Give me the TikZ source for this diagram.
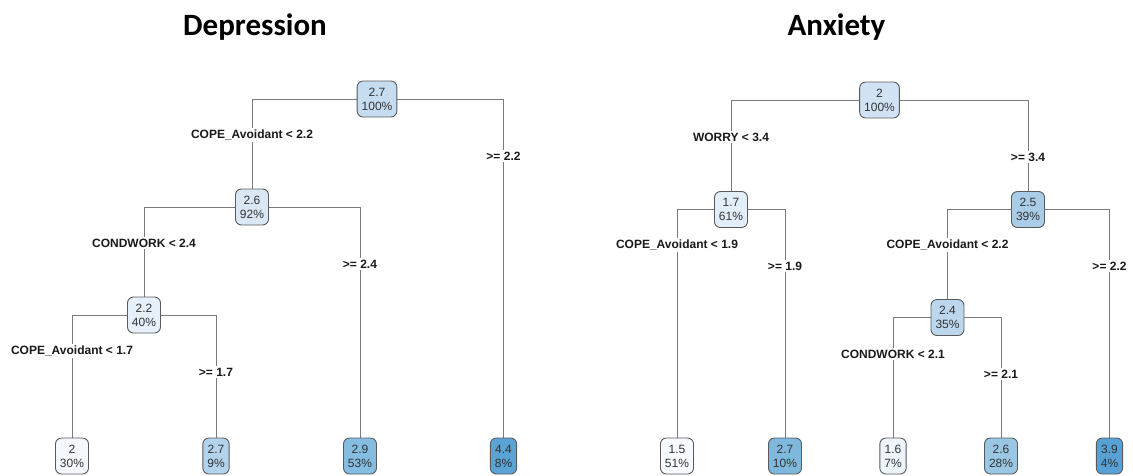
\documentclass[tikz,border=0pt]{standalone}
\usepackage{fontspec}
\setmainfont{Liberation Sans}
\newfontfamily\titlefont{Carlito}
\usetikzlibrary{backgrounds}
\definecolor{nodeborder}{HTML}{5A5A5A}
\definecolor{nodetext}{HTML}{333333}
\definecolor{labtext}{HTML}{1A1A1A}
\definecolor{edgecol}{HTML}{7A7A7A}
\begin{document}
\begin{tikzpicture}[x=1pt,y=-1pt,
  tnode/.style={draw=nodeborder, rounded corners=6pt, line width=0.9pt, align=center,
    font=\fontsize{12}{14}\selectfont, text=nodetext, inner xsep=4.5pt, inner ysep=3pt,
    minimum height=36pt},
  lab/.style={fill=white, font=\bfseries\fontsize{12}{14}\selectfont, inner sep=1.5pt, text=labtext},
  edge/.style={draw=edgecol, line width=1pt},
  ttl/.style={font=\titlefont\bfseries\fontsize{31}{36}\selectfont, anchor=base}]
\useasboundingbox (0,0) rectangle (1133,475);
% titles
\node[ttl] (tdep) at (255,35) {Depression};
\node[ttl] (tanx) at (836.5,35) {Anxiety};
% Depression tree
\node[tnode, fill={rgb,255:red,198;green,220;blue,240}] (d0) at (377,99) {2.7\\100\%};
\node[tnode, fill={rgb,255:red,218;green,232;blue,245}] (d1) at (252,207) {2.6\\92\%};
\node[tnode, fill={rgb,255:red,230;green,240;blue,250}] (d2) at (144,315) {2.2\\40\%};
\node[tnode, fill={rgb,255:red,245;green,249;blue,254}] (dl1) at (72,456) {2\\30\%};
\node[tnode, fill={rgb,255:red,179;green,211;blue,236}] (dl2) at (216,456) {2.7\\9\%};
\node[tnode, fill={rgb,255:red,133;green,189;blue,226}] (dl3) at (360,456) {2.9\\53\%};
\node[tnode, fill={rgb,255:red,90;green,163;blue,214}] (dl4) at (503.5,456) {4.4\\8\%};
% Anxiety tree
\node[tnode, fill={rgb,255:red,208;green,226;blue,243}] (a0) at (879.5,100) {2\\100\%};
\node[tnode, fill={rgb,255:red,226;green,238;blue,249}] (a1) at (731,209.5) {1.7\\61\%};
\node[tnode, fill={rgb,255:red,169;green,205;blue,231}] (a2) at (1028,209.5) {2.5\\39\%};
\node[tnode, fill={rgb,255:red,188;green,215;blue,237}] (a3) at (947.5,317.5) {2.4\\35\%};
\node[tnode, fill={rgb,255:red,247;green,251;blue,255}] (al1) at (677,456) {1.5\\51\%};
\node[tnode, fill={rgb,255:red,127;green,184;blue,221}] (al2) at (785,456) {2.7\\10\%};
\node[tnode, fill={rgb,255:red,237;green,244;blue,252}] (al3) at (893,456) {1.6\\7\%};
\node[tnode, fill={rgb,255:red,154;green,199;blue,228}] (al4) at (1001,456) {2.6\\28\%};
\node[tnode, fill={rgb,255:red,88;green,161;blue,212}] (al5) at (1109.5,456) {3.9\\4\%};
% edges
\begin{scope}[on background layer]
\draw[edge] (d0) -| (d1);
\draw[edge] (d0) -| (dl4);
\draw[edge] (d1) -| (d2);
\draw[edge] (d1) -| (dl3);
\draw[edge] (d2) -| (dl1);
\draw[edge] (d2) -| (dl2);
\draw[edge] (a0) -| (a1);
\draw[edge] (a0) -| (a2);
\draw[edge] (a1) -| (al1);
\draw[edge] (a1) -| (al2);
\draw[edge] (a2) -| (a3);
\draw[edge] (a2) -| (al5);
\draw[edge] (a3) -| (al3);
\draw[edge] (a3) -| (al4);
\end{scope}
% labels
\node[lab] (ld1) at (252,135) {COPE\_Avoidant < 2.2};
\node[lab] (ld2) at (503.5,156) {>= 2.2};
\node[lab] (ld3) at (144,243) {CONDWORK < 2.4};
\node[lab] (ld4) at (360,264) {>= 2.4};
\node[lab] (ld5) at (72,351) {COPE\_Avoidant < 1.7};
\node[lab] (ld6) at (216,372) {>= 1.7};
\node[lab] (la1) at (731,137) {WORRY < 3.4};
\node[lab] (la2) at (1028,157) {>= 3.4};
\node[lab] (la3) at (677,245) {COPE\_Avoidant < 1.9};
\node[lab] (la4) at (785,266) {>= 1.9};
\node[lab] (la5) at (947.5,245) {COPE\_Avoidant < 2.2};
\node[lab] (la6) at (1109.5,266) {>= 2.2};
\node[lab] (la7) at (893,354) {CONDWORK < 2.1};
\node[lab] (la8) at (1001,374) {>= 2.1};
\end{tikzpicture}
\end{document}
